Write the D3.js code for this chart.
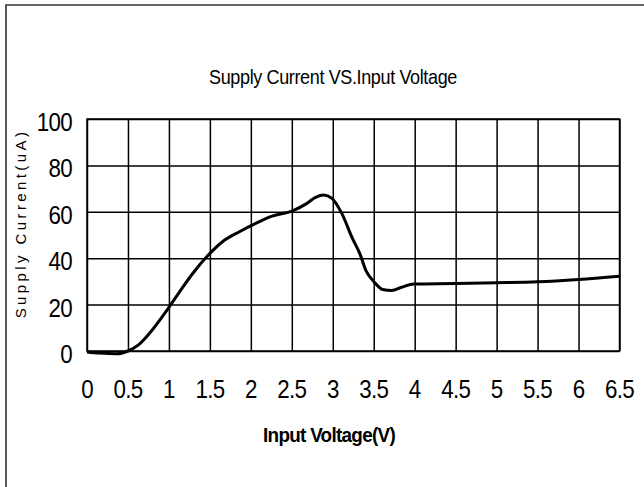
<!DOCTYPE html>
<html>
<head>
<meta charset="utf-8">
<script src="https://cdn.jsdelivr.net/npm/d3@7"></script>
<style>
  html, body { margin: 0; padding: 0; background: #fff; }
  svg text { font-family: "Liberation Sans", Arial, sans-serif; fill: #000; }
</style>
</head>
<body>
<div id="container"></div>
<script>
// curve
const voltage = [0, 0.15, 0.36, 0.5, 0.62, 0.76, 0.99, 1.13, 1.29, 1.49, 1.65, 1.86, 2.06, 2.26, 2.51, 2.67, 2.79, 2.89, 2.99, 3.11, 3.24, 3.33, 3.41, 3.5, 3.61, 3.72, 3.84, 3.99, 4.5, 5.0, 5.5, 6.0, 6.5];
const current = [-0.4, -0.9, -1.2, 0, 2.4, 7.5, 18.3, 25.5, 33.4, 41.7, 47, 51.4, 55, 58.1, 60.4, 63.3, 66.2, 67.2, 65.8, 59.3, 48.5, 42, 34.3, 30, 26.5, 26.1, 27.5, 28.9, 29.1, 29.4, 29.8, 30.8, 32.2];

const xTicks = [0, 0.5, 1, 1.5, 2, 2.5, 3, 3.5, 4, 4.5, 5, 5.5, 6, 6.5];
const yTicks = [0, 20, 40, 60, 80, 100];

const title = "Supply Current VS.Input Voltage";
const xTitle = "Input Voltage(V)";
const yTitle = "Supply Current(uA)";

const width = 644;
const height = 487;
const plot = {left: 87, right: 619.5, top: 119, bottom: 351};
const squeeze = 0.86; // the original text is drawn narrow

const svg = d3.select("#container")
  .append("svg")
  .attr("width", width)
  .attr("height", height);

// outer frame, only its left and top edges are in the window
svg.append("path")
  .attr("d", `M6,${height + 5} L6,5 L${width + 5},5`)
  .attr("fill", "none")
  .attr("stroke", "#333")
  .attr("stroke-width", 1.6);

const x = d3.scaleLinear().domain([0, 6.5]).range([plot.left, plot.right]);
const y = d3.scaleLinear().domain([0, 100]).range([plot.bottom, plot.top]);

// grid
const xGrid = d3.axisBottom(x).tickValues(xTicks)
  .tickSize(-(plot.bottom - plot.top)).tickFormat("");
const yGrid = d3.axisLeft(y).tickValues(yTicks)
  .tickSize(-(plot.right - plot.left)).tickFormat("");

svg.append("g")
  .attr("transform", `translate(0,${plot.bottom})`)
  .call(xGrid)
  .call(g => g.select(".domain").remove())
  .call(g => g.selectAll("line").attr("stroke", "#000").attr("stroke-width", 1.5));

svg.append("g")
  .attr("transform", `translate(${plot.left},0)`)
  .call(yGrid)
  .call(g => g.select(".domain").remove())
  .call(g => g.selectAll("line").attr("stroke", "#000").attr("stroke-width", 1.5));

svg.append("rect")
  .attr("x", plot.left).attr("y", plot.top)
  .attr("width", plot.right - plot.left)
  .attr("height", plot.bottom - plot.top)
  .attr("fill", "none").attr("stroke", "#000").attr("stroke-width", 1.5);

// tick labels
svg.append("g")
  .selectAll("g")
  .data(xTicks)
  .join("g")
  .attr("transform", d => `translate(${x(d)},398) scale(${squeeze},1)`)
  .append("text")
  .attr("text-anchor", "middle")
  .attr("font-size", 26)
  .attr("letter-spacing", -0.8)
  .text(d => String(d));

svg.append("g")
  .selectAll("g")
  .data(yTicks)
  .join("g")
  .attr("transform", d => `translate(72,${y(d) + 12}) scale(${squeeze},1)`)
  .append("text")
  .attr("text-anchor", "end")
  .attr("font-size", 26)
  .attr("letter-spacing", -0.8)
  .text(d => String(d));

// curve
const pts = voltage.map((v, i) => [v, current[i]]);
const line = d3.line()
  .x(d => x(d[0]))
  .y(d => y(d[1]))
  .curve(d3.curveMonotoneX);

svg.append("path")
  .datum(pts)
  .attr("d", line)
  .attr("fill", "none")
  .attr("stroke", "#000")
  .attr("stroke-width", 3)
  .attr("stroke-linejoin", "round");

// titles
svg.append("g")
  .attr("transform", `translate(333,84) scale(0.9,1)`)
  .append("text")
  .attr("text-anchor", "middle")
  .attr("font-size", 20)
  .attr("letter-spacing", -0.4)
  .text(title);

svg.append("g")
  .attr("transform", `translate(329,442) scale(0.9,1)`)
  .append("text")
  .attr("text-anchor", "middle")
  .attr("font-size", 21)
  .attr("font-weight", "bold")
  .attr("letter-spacing", -0.8)
  .text(xTitle);

svg.append("text")
  .attr("transform", "translate(25.5,223.5) rotate(-90)")
  .attr("text-anchor", "middle")
  .attr("font-size", 15)
  .attr("letter-spacing", 3.4)
  .text(yTitle);
</script>
</body>
</html>
